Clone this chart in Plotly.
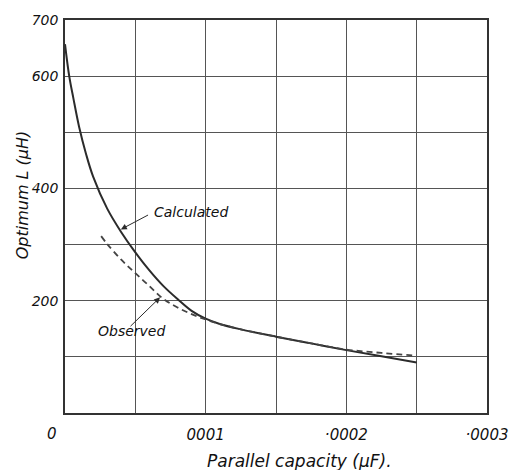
import plotly.graph_objects as go

# Parallel capacity in microfarads, optimum inductance in microhenries
calc_capacity = [0, 0.000003, 0.000006, 0.00001, 0.000015, 0.00002, 0.00003, 0.00004,
                 0.00005, 0.00006, 0.00007, 0.00008, 0.00009, 0.0001, 0.00011,
                 0.000125, 0.00015, 0.000175, 0.0002, 0.000225, 0.00025]
calc_inductance = [657, 600, 560, 510, 461, 421, 364, 322, 286, 254, 226, 203, 182,
                   168, 158.5, 149, 136, 124, 112, 101, 90]

obs_capacity = [0.0000257, 0.00003, 0.00004, 0.00005, 0.00006, 0.00007, 0.00008,
                0.00009, 0.0001, 0.00011, 0.000125, 0.00015, 0.000175, 0.0002,
                0.000225, 0.00025]
obs_inductance = [315, 301, 273, 249, 226, 203, 188, 176, 166.5, 158.5, 149, 136, 124,
                  113, 107, 102]

x_grid = [0, 0.00005, 0.0001, 0.00015, 0.0002, 0.00025, 0.0003]
x_labels = ["", "", "0001", "", "·0002", "", "·0003"]
y_grid = [0, 100, 200, 300, 400, 500, 600, 700]
y_labels = ["", "", "200", "", "400", "", "600", "700"]

ink = "#2b2b2b"
font_family = "DejaVu Sans"
italic = dict(family=font_family, color="#111111", style="italic")

fig = go.Figure()
fig.add_trace(go.Scatter(x=calc_capacity, y=calc_inductance, mode="lines",
                         line=dict(color=ink, width=2, shape="spline", smoothing=1),
                         name="Calculated", showlegend=False))
fig.add_trace(go.Scatter(x=obs_capacity, y=obs_inductance, mode="lines",
                         line=dict(color="#444444", width=1.8, dash="6px,4px",
                                   shape="spline", smoothing=1),
                         name="Observed", showlegend=False))

# Curve labels with pointer arrows
fig.add_annotation(x=0.0000397, y=327, ax=0.0000601, ay=354, axref="x", ayref="y",
                   text="", showarrow=True, arrowhead=2, arrowsize=1.2,
                   arrowwidth=1, arrowcolor=ink)
fig.add_annotation(x=0.0000615, y=358, text="Calculated", showarrow=False,
                   xanchor="left", yanchor="middle", font=dict(size=14, **italic))
fig.add_annotation(x=0.0000676, y=206, ax=0.0000455, ay=152, axref="x", ayref="y",
                   text="", showarrow=True, arrowhead=2, arrowsize=1.2,
                   arrowwidth=1, arrowcolor=ink)
fig.add_annotation(x=0.0000476, y=146, text="Observed", showarrow=False,
                   xanchor="center", yanchor="middle", font=dict(size=14, **italic))

# Origin label sits a little left of the corner
fig.add_annotation(x=0, y=0, yref="y", text="0", showarrow=False,
                   xanchor="center", yanchor="top", xshift=-13, yshift=-10,
                   font=dict(size=15, **italic))

# Axis titles
fig.add_annotation(x=0.555, y=-0.123, xref="paper", yref="paper",
                   text="Parallel capacity (μF).", showarrow=False,
                   xanchor="center", yanchor="middle", font=dict(size=17, **italic))
fig.add_annotation(x=-0.1, y=0.556, xref="paper", yref="paper",
                   text="Optimum L (μH)", showarrow=False, textangle=-90,
                   xanchor="center", yanchor="middle", font=dict(size=16, **italic))

fig.update_layout(
    width=520, height=470,
    margin=dict(l=65, r=26, t=14, b=57),
    paper_bgcolor="white", plot_bgcolor="white",
    font=dict(size=14, **italic),
    xaxis=dict(range=[0, 0.0003], tickmode="array", tickvals=x_grid,
               ticktext=x_labels, showgrid=True, gridcolor="#555555", gridwidth=1,
               zeroline=False, showline=True, linecolor="#333333", linewidth=1.5,
               mirror=True, ticks="", ticklen=0, ticklabelstandoff=7,
               tickfont=dict(size=15, **italic)),
    yaxis=dict(range=[0, 700], tickmode="array", tickvals=y_grid,
               ticktext=y_labels, showgrid=True, gridcolor="#555555", gridwidth=1,
               zeroline=False, showline=True, linecolor="#333333", linewidth=1.5,
               mirror=True, ticks="", ticklen=0, ticklabelstandoff=2,
               tickfont=dict(size=14, **italic)),
)

fig.write_html("out.html")
